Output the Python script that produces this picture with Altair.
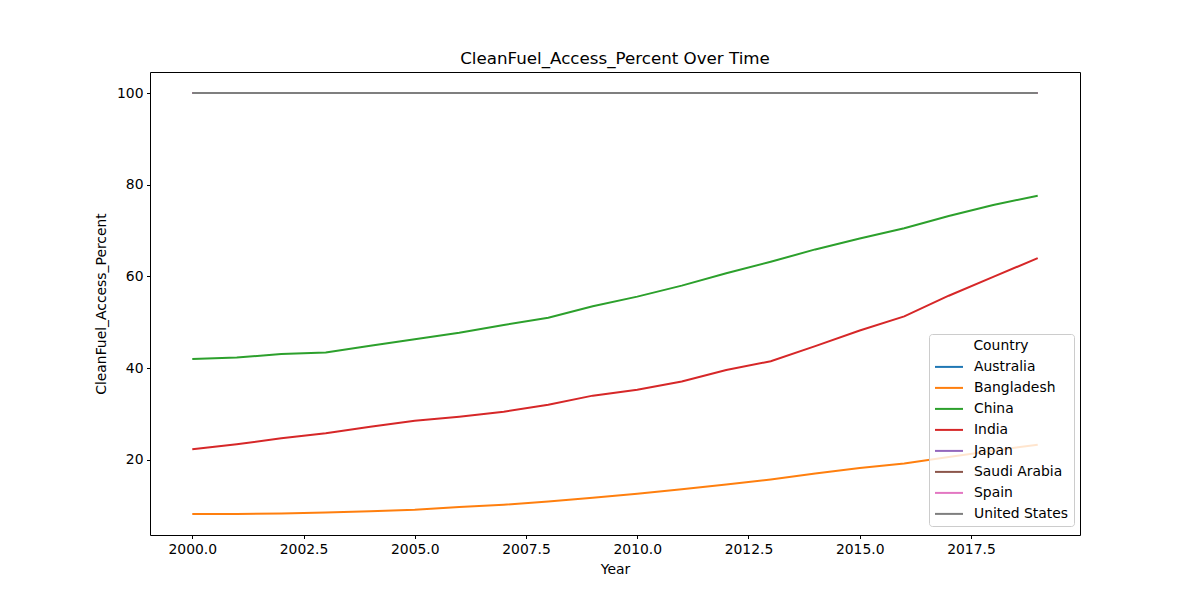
import altair as alt
import pandas as pd

years = list(range(2000, 2020))
countries = ["Australia", "Bangladesh", "China", "India", "Japan", "Saudi Arabia", "Spain", "United States"]
australia = [100.0] * 20
bangladesh = [8.2, 8.2, 8.3, 8.5, 8.8, 9.1, 9.7, 10.2, 10.9, 11.7, 12.6, 13.6, 14.6, 15.7, 17.0, 18.2, 19.2, 20.6, 22.0, 23.3]
china = [42.0, 42.3, 43.1, 43.4, 44.9, 46.3, 47.7, 49.4, 51.0, 53.5, 55.6, 58.0, 60.7, 63.2, 65.9, 68.3, 70.5, 73.2, 75.6, 77.6]
india = [22.3, 23.4, 24.7, 25.8, 27.2, 28.5, 29.4, 30.5, 32.0, 34.0, 35.3, 37.1, 39.6, 41.5, 44.8, 48.2, 51.3, 55.8, 59.9, 64.0]
japan = [100.0] * 20
saudi = [100.0] * 20
spain = [100.0] * 20
usa = [100.0] * 20
series = [australia, bangladesh, china, india, japan, saudi, spain, usa]
colors = ["#1f77b4", "#ff7f0e", "#2ca02c", "#d62728", "#9467bd", "#8c564b", "#e377c2", "#7f7f7f"]

rows = []
for c, vals in zip(countries, series):
    for y, v in zip(years, vals):
        rows.append({"Country": c, "Year": y, "CleanFuel_Access_Percent": v})
df = pd.DataFrame(rows)

font = "DejaVu Sans"

chart = alt.Chart(df).mark_line(strokeWidth=2).encode(
    x=alt.X("Year:Q",
            scale=alt.Scale(domain=[1999.05, 2019.95], nice=False, zero=False),
            axis=alt.Axis(values=[2000, 2002.5, 2005, 2007.5, 2010, 2012.5, 2015, 2017.5],
                          format=".1f", title="Year", grid=False)),
    y=alt.Y("CleanFuel_Access_Percent:Q",
            scale=alt.Scale(domain=[3.6, 104.6], nice=False, zero=False),
            axis=alt.Axis(values=[20, 40, 60, 80, 100], format="d",
                          title="CleanFuel_Access_Percent", grid=False)),
    color=alt.Color("Country:N",
                    scale=alt.Scale(domain=countries, range=colors),
                    legend=alt.Legend(orient="none", legendX=779, legendY=262,
                                      symbolType="M-1.4,0L1.4,0", symbolStrokeWidth=2,
                                      symbolSize=400, symbolOffset=4,
                                      labelFont=font, labelFontSize=13.9, labelColor="black",
                                      titleFont=font, titleFontSize=13.9, titleFontWeight="normal",
                                      titleColor="black", titleAnchor="middle", titlePadding=3,
                                      fillColor="rgba(255,255,255,0.8)", strokeColor="#cccccc",
                                      cornerRadius=3, padding=5, rowPadding=3, labelOffset=14)),
).properties(
    width=930, height=463,
    title=alt.TitleParams("CleanFuel_Access_Percent Over Time", font=font, fontSize=16.7,
                          fontWeight="normal", color="black", anchor="middle", offset=4),
    autosize=alt.AutoSizeParams(type="none"),
    padding={"left": 142, "top": 64, "right": 112, "bottom": 57},
).configure_view(
    stroke="black", strokeWidth=1
).configure_axis(
    domain=False, tickColor="black", tickSize=3.5, tickWidth=1, labelPadding=3.5,
    labelFont=font, labelFontSize=13.9, labelColor="black",
    titleFont=font, titleFontSize=13.9, titleFontWeight="normal", titleColor="black",
).configure_axisX(titlePadding=7).configure_axisY(titlePadding=8)

chart.save("out.html", embed_options={"renderer": "svg", "actions": False})
